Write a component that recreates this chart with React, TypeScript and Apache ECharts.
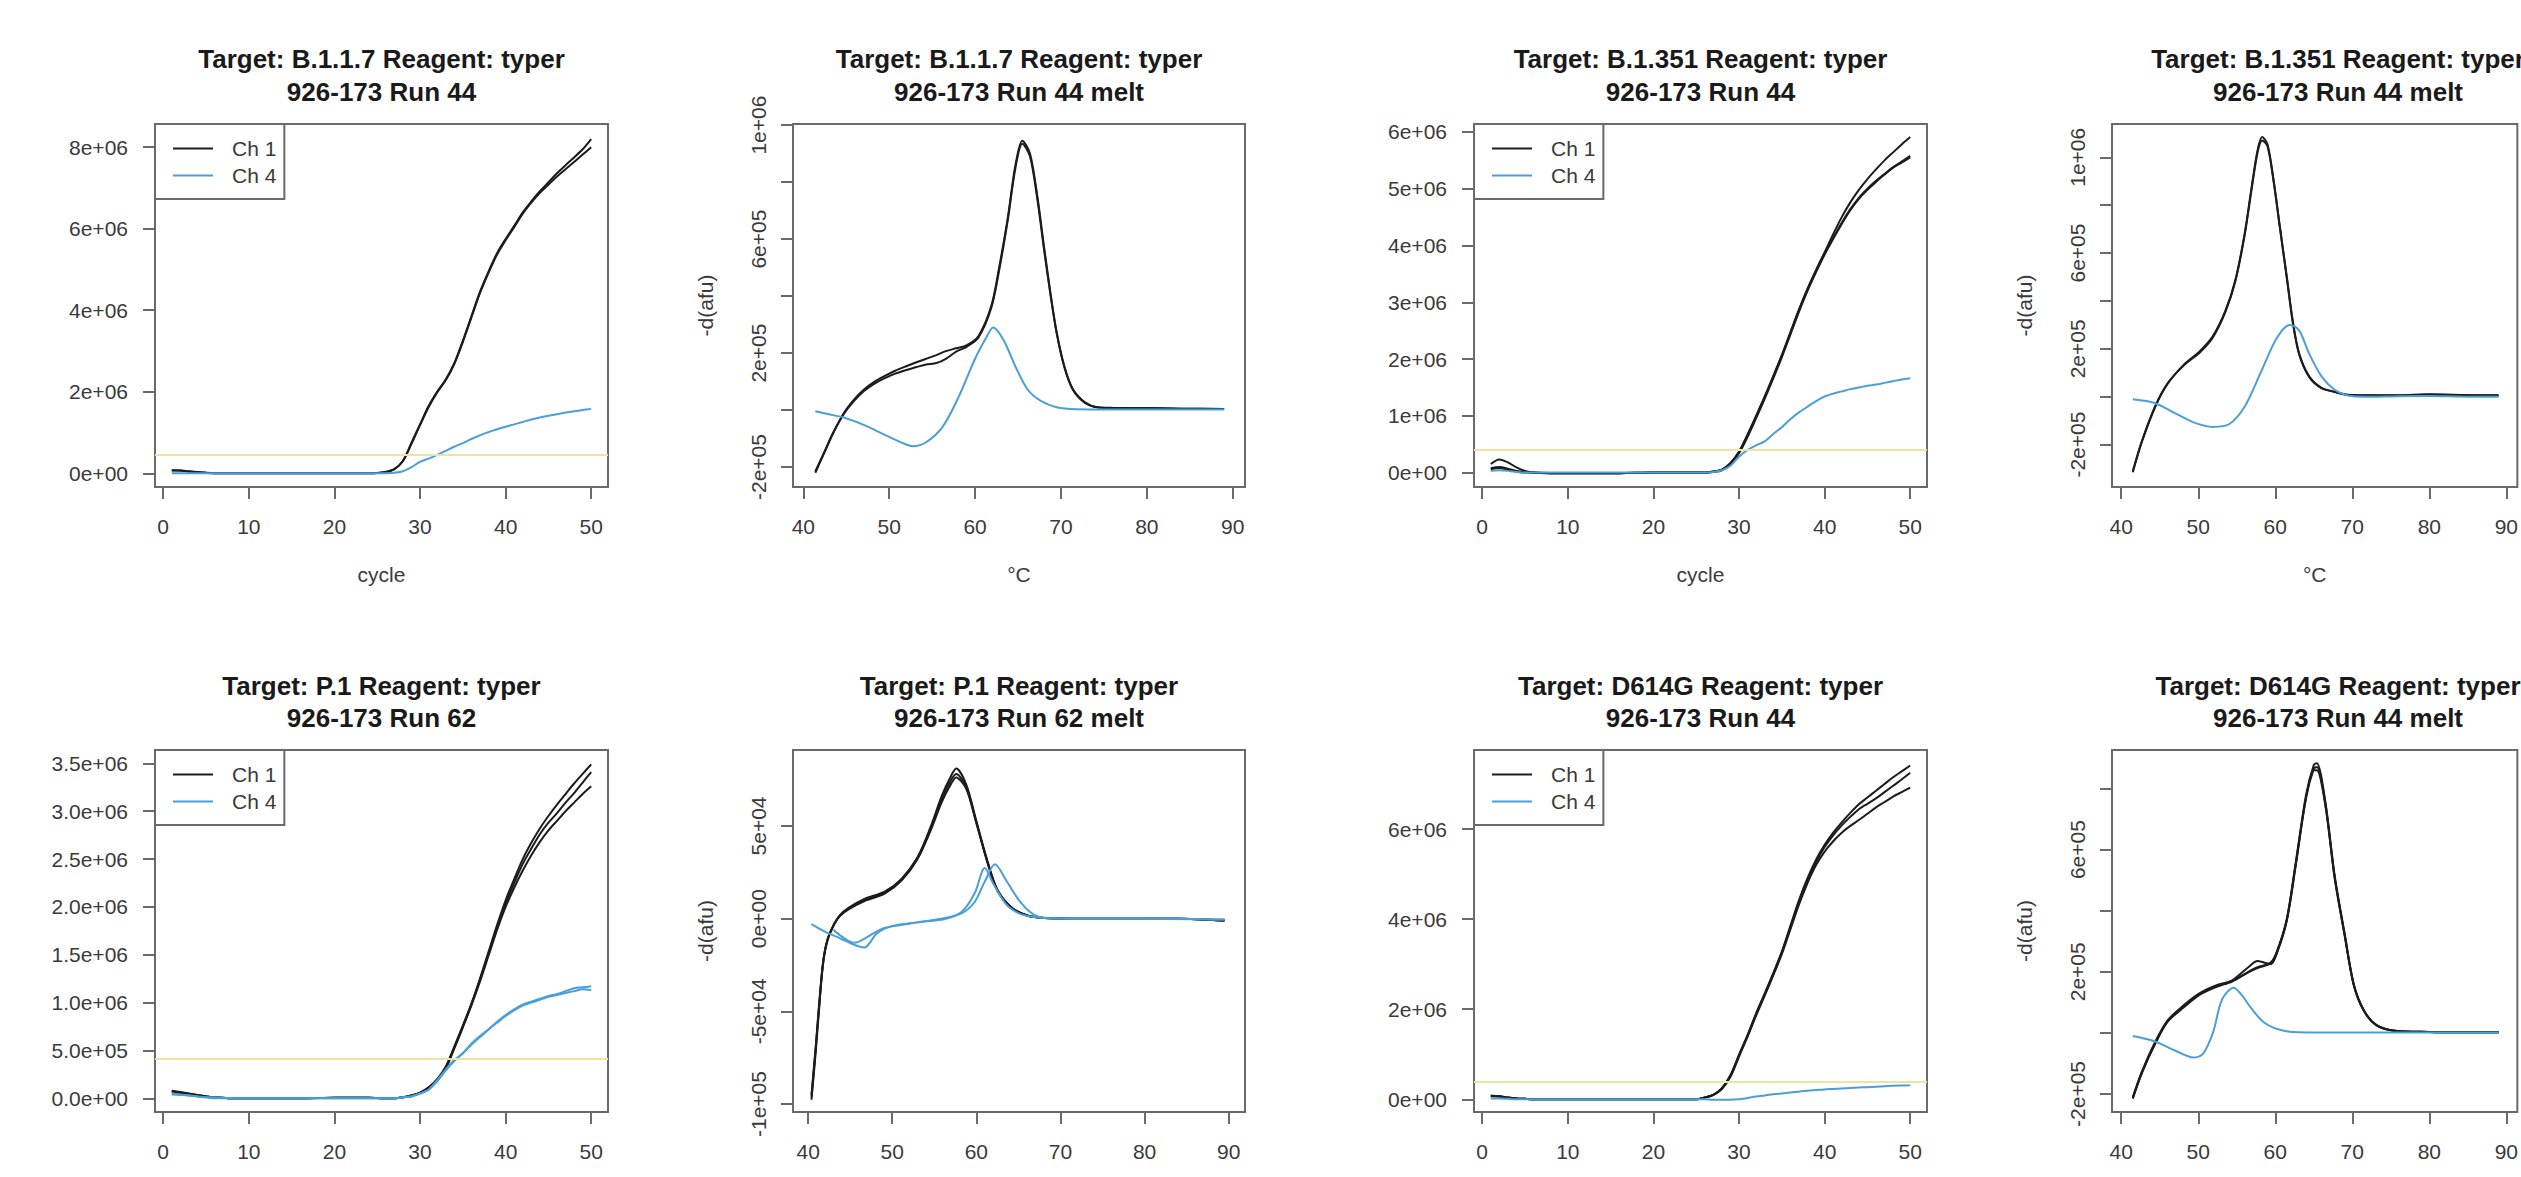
import React, { useEffect, useRef } from "react";
import * as echarts from "echarts";

const W = 2521;
const H = 1177;
const FONT = '"Liberation Sans", Arial, Helvetica, sans-serif';
const CH1_COLOR = "#1c1c1c";
const CH4_COLOR = "#4a9fd9";
const THR_COLOR = "#efe2a2";
const BOX_COLOR = "#6a6a6a";
const LABEL_COLOR = "#3a3a3a";

// ---------- shared amplification cycles ----------
const CYCLES = [1, 2, 3, 4, 5, 6, 8, 12, 16, 20, 24, 25, 26, 27, 28, 29, 30, 31, 32, 33, 34, 35, 36, 37, 38, 39, 40, 41, 42, 43, 44, 45, 46, 47, 48, 49, 50];
const CYCLE_TICKS = [0, 10, 20, 30, 40, 50];
const TEMP_TICKS = [40, 50, 60, 70, 80, 90];

// ---------- Panel 1: B.1.1.7 amplification (values in 1e6) ----------
const P1_CH1_A = [0.075, 0.07, 0.05, 0.03, 0.01, 0, 0, 0, 0, 0, 0, 0.005, 0.03, 0.1, 0.3, 0.75, 1.2, 1.65, 2.0, 2.3, 2.7, 3.25, 3.85, 4.45, 4.95, 5.4, 5.75, 6.07, 6.4, 6.67, 6.92, 7.14, 7.36, 7.56, 7.75, 7.95, 8.2];
const P1_CH1_B = [0.07, 0.065, 0.045, 0.025, 0.01, 0, 0, 0, 0, 0, 0, 0.005, 0.03, 0.1, 0.3, 0.72, 1.18, 1.62, 1.98, 2.28, 2.68, 3.22, 3.82, 4.42, 4.92, 5.37, 5.72, 6.04, 6.37, 6.64, 6.88, 7.08, 7.28, 7.46, 7.64, 7.82, 8.0];
const P1_CH4 = [0, 0, 0, 0, 0, 0, 0, 0, 0, 0, 0, 0, 0, 0.01, 0.05, 0.15, 0.28, 0.36, 0.45, 0.55, 0.65, 0.74, 0.84, 0.93, 1.01, 1.08, 1.14, 1.2, 1.26, 1.32, 1.37, 1.41, 1.45, 1.49, 1.52, 1.55, 1.58];
const P1_YTICKS = [0, 2e6, 4e6, 6e6, 8e6];
const P1_THRESHOLD = 4.5e5;

// ---------- Panel 2: B.1.1.7 melt (values in 1e6) ----------
const P2_CH1_X = [41.4, 42.4, 43.5, 44.8, 46, 47.1, 48.3, 49.5, 50.7, 51.9, 53.1, 54.3, 55.5, 56.6, 57.8, 59.0, 60.4, 61.9, 62.8, 63.8, 64.7, 65.5, 66.4, 67.3, 68.0, 68.8, 69.5, 70.4, 71.4, 72.8, 74.2, 76, 80, 84, 89];
const P2_CH1_A = [-0.22, -0.153, -0.08, -0.007, 0.04, 0.073, 0.1, 0.12, 0.138, 0.153, 0.167, 0.18, 0.193, 0.207, 0.217, 0.227, 0.26, 0.367, 0.5, 0.673, 0.86, 0.945, 0.9, 0.74, 0.58, 0.407, 0.273, 0.153, 0.073, 0.027, 0.01, 0.008, 0.007, 0.005, 0.004];
const P2_CH1_B = [-0.215, -0.15, -0.078, -0.01, 0.035, 0.068, 0.093, 0.112, 0.128, 0.14, 0.15, 0.16, 0.165, 0.18, 0.205, 0.222, 0.255, 0.36, 0.49, 0.665, 0.85, 0.935, 0.89, 0.73, 0.57, 0.4, 0.27, 0.15, 0.07, 0.025, 0.01, 0.007, 0.006, 0.005, 0.004];
const P2_CH4_X = [41.4, 43, 44.8, 47.1, 49.5, 51.9, 52.8, 54.3, 56.2, 58.1, 60, 61.4, 62.1, 63.3, 64.7, 66.1, 67.6, 69.5, 71.8, 76, 80, 85, 89];
const P2_CH4 = [-0.004, -0.015, -0.027, -0.053, -0.087, -0.12, -0.127, -0.113, -0.06, 0.047, 0.18, 0.26, 0.29, 0.247, 0.153, 0.073, 0.033, 0.01, 0.003, 0.002, 0.002, 0.002, 0.002];
const P2_YTICKS = [-2e5, 0, 2e5, 4e5, 6e5, 8e5, 1e6];
const P2_YLABELS = [-2e5, 2e5, 6e5, 1e6];

// ---------- Panel 3: B.1.351 amplification (values in 1e6) ----------
const P3_CH1_A = [0.15, 0.23, 0.18, 0.09, 0.03, 0, -0.01, -0.01, -0.01, 0, 0, 0, 0, 0.02, 0.05, 0.17, 0.37, 0.67, 1.0, 1.34, 1.7, 2.07, 2.47, 2.87, 3.24, 3.57, 3.88, 4.2, 4.5, 4.76, 4.98, 5.17, 5.34, 5.5, 5.64, 5.78, 5.91];
const P3_CH1_B = [0.08, 0.1, 0.07, 0.03, 0.01, 0, -0.01, -0.01, -0.01, 0, 0, 0, 0, 0.02, 0.05, 0.16, 0.36, 0.66, 0.99, 1.33, 1.69, 2.06, 2.46, 2.86, 3.22, 3.55, 3.86, 4.13, 4.4, 4.64, 4.84, 5.0, 5.14, 5.26, 5.38, 5.48, 5.58];
const P3_CH1_C = [0.06, 0.08, 0.05, 0.02, 0, 0, -0.01, -0.01, -0.01, 0, 0, 0, 0, 0.01, 0.04, 0.15, 0.34, 0.63, 0.96, 1.3, 1.66, 2.03, 2.43, 2.83, 3.2, 3.53, 3.84, 4.12, 4.38, 4.62, 4.82, 4.98, 5.12, 5.25, 5.37, 5.46, 5.55];
const P3_CH4 = [0.03, 0.04, 0.03, 0.01, 0, 0, 0, 0, 0, 0, 0, 0, 0, 0.01, 0.04, 0.12, 0.28, 0.4, 0.48, 0.55, 0.68, 0.8, 0.94, 1.06, 1.16, 1.26, 1.34, 1.39, 1.43, 1.47, 1.5, 1.53, 1.55, 1.58, 1.61, 1.64, 1.66];
const P3_YTICKS = [0, 1e6, 2e6, 3e6, 4e6, 5e6, 6e6];
const P3_THRESHOLD = 4.0e5;

// ---------- Panel 4: B.1.351 melt (values in 1e6) ----------
const P4_CH1_X = [41.5, 42.7, 44.4, 46, 48.1, 50.2, 51.9, 53.5, 54.8, 56, 56.9, 57.7, 58.3, 59, 59.8, 60.6, 61.5, 62.3, 63.1, 64.4, 66, 67.7, 69.4, 72, 76, 80, 85, 89];
const P4_CH1_A = [-0.315, -0.187, -0.043, 0.053, 0.133, 0.19, 0.253, 0.357, 0.485, 0.677, 0.869, 1.03, 1.085, 1.053, 0.9, 0.71, 0.5, 0.31, 0.18, 0.085, 0.037, 0.021, 0.008, 0.006, 0.006, 0.01, 0.007, 0.006];
const P4_CH1_B = [-0.31, -0.183, -0.04, 0.055, 0.13, 0.185, 0.248, 0.352, 0.48, 0.67, 0.86, 1.02, 1.07, 1.045, 0.895, 0.705, 0.495, 0.305, 0.178, 0.083, 0.036, 0.02, 0.007, 0.005, 0.005, 0.008, 0.006, 0.005];
const P4_CH4_X = [41.5, 44.4, 46.9, 49.4, 51.9, 54, 56, 58.1, 60.2, 61.9, 63.1, 64.4, 66, 67.7, 69.4, 72, 76, 80, 85, 89];
const P4_CH4 = [-0.011, -0.027, -0.067, -0.107, -0.126, -0.115, -0.043, 0.1, 0.245, 0.3, 0.277, 0.18, 0.085, 0.029, 0.005, 0, 0.002, 0.003, 0, 0];
const P4_YTICKS = [-2e5, 0, 2e5, 4e5, 6e5, 8e5, 1e6];
const P4_YLABELS = [-2e5, 2e5, 6e5, 1e6];

// ---------- Panel 5: P.1 amplification (values in 1e6) ----------
const P5_CH1_A = [0.08, 0.065, 0.05, 0.035, 0.02, 0.01, 0, 0, 0, 0.005, 0.005, 0.003, 0, 0, 0.01, 0.03, 0.06, 0.115, 0.2, 0.33, 0.54, 0.76, 0.99, 1.25, 1.53, 1.81, 2.07, 2.29, 2.5, 2.67, 2.82, 2.95, 3.07, 3.18, 3.29, 3.39, 3.49];
const P5_CH1_B = [0.075, 0.06, 0.045, 0.035, 0.02, 0.01, 0, 0, 0, 0.005, 0.005, 0.003, 0, 0, 0.01, 0.03, 0.057, 0.11, 0.19, 0.32, 0.53, 0.75, 0.98, 1.24, 1.51, 1.79, 2.04, 2.25, 2.45, 2.61, 2.76, 2.88, 2.98, 3.09, 3.19, 3.3, 3.41];
const P5_CH1_C = [0.07, 0.055, 0.04, 0.03, 0.02, 0.01, 0, 0, 0, 0.005, 0.005, 0.003, 0, 0, 0.01, 0.03, 0.055, 0.105, 0.18, 0.31, 0.52, 0.74, 0.97, 1.22, 1.49, 1.76, 2.0, 2.2, 2.38, 2.54, 2.68, 2.8, 2.9, 3.0, 3.09, 3.18, 3.26];
const P5_CH4_A = [0.05, 0.04, 0.03, 0.02, 0.01, 0.01, 0, 0, 0, 0, 0, 0, 0, 0, 0.01, 0.02, 0.05, 0.09, 0.19, 0.3, 0.4, 0.47, 0.57, 0.65, 0.72, 0.8, 0.87, 0.93, 0.98, 1.01, 1.04, 1.07, 1.09, 1.12, 1.15, 1.16, 1.17];
const P5_CH4_B = [0.04, 0.035, 0.03, 0.02, 0.01, 0, 0, 0, 0, 0, 0, 0, 0, 0, 0.01, 0.02, 0.05, 0.09, 0.18, 0.29, 0.39, 0.47, 0.56, 0.64, 0.72, 0.79, 0.86, 0.92, 0.97, 1.0, 1.03, 1.06, 1.08, 1.1, 1.12, 1.14, 1.13];
const P5_YTICKS = [0, 5e5, 1e6, 1.5e6, 2e6, 2.5e6, 3e6, 3.5e6];
const P5_THRESHOLD = 4.1e5;

// ---------- Panel 6: P.1 melt (values in 1e4) ----------
const P6_CH1_X = [40.4, 40.9, 41.4, 41.8, 42.3, 43.1, 43.8, 44.8, 46.7, 49.1, 51.1, 53, 54.5, 55.9, 56.9, 57.6, 58.8, 60, 61.3, 62.5, 64.2, 66.1, 68.1, 72, 78, 84, 89.5];
const P6_CH1_A = [-9.77, -7.2, -4.3, -2.34, -1.17, -0.29, 0.2, 0.59, 1.07, 1.46, 2.15, 3.32, 4.88, 6.64, 7.62, 8.1, 7.23, 5.27, 3.13, 1.56, 0.59, 0.16, 0.04, 0, 0, 0, -0.1];
const P6_CH1_B = [-9.6, -7.0, -4.2, -2.3, -1.15, -0.3, 0.15, 0.5, 0.95, 1.35, 2.05, 3.22, 4.75, 6.45, 7.4, 7.8, 7.1, 5.2, 3.1, 1.55, 0.6, 0.17, 0.04, 0, 0, 0, -0.1];
const P6_CH1_C = [-9.5, -6.9, -4.1, -2.25, -1.12, -0.28, 0.18, 0.55, 1.0, 1.4, 2.1, 3.25, 4.7, 6.3, 7.2, 7.62, 7.0, 5.15, 3.05, 1.5, 0.58, 0.16, 0.04, 0, 0, 0, -0.1];
const P6_CH4_A_X = [40.4, 42, 43.5, 45.7, 46.7, 48.2, 50.1, 53, 56.4, 58.3, 59.8, 61, 62, 63.5, 65, 66.6, 68.1, 72, 78, 84, 89.5];
const P6_CH4_A = [-0.29, -0.7, -1.0, -1.45, -1.56, -0.78, -0.39, -0.2, 0, 0.39, 1.37, 2.73, 1.9, 0.8, 0.3, 0.1, 0.03, 0, 0, 0, -0.05];
const P6_CH4_B_X = [43, 45.5, 47, 48.5, 50.1, 53, 56.4, 58.3, 59.8, 61, 62.2, 63.7, 65.1, 66.6, 68.1, 72, 80, 89.5];
const P6_CH4_B = [-0.6, -1.3, -1.0, -0.6, -0.4, -0.2, 0.05, 0.3, 0.9, 2.0, 2.93, 1.95, 0.98, 0.29, 0.04, 0, 0, -0.05];
const P6_YTICKS = [-1e5, -5e4, 0, 5e4];
const P6_YLABELS = [-1e5, -5e4, 0, 5e4];

// ---------- Panel 7: D614G amplification (values in 1e6) ----------
const P7_CH1_A = [0.08, 0.07, 0.04, 0.02, 0.01, 0, 0, 0, 0, 0, 0, 0, 0.04, 0.1, 0.25, 0.54, 0.99, 1.43, 1.91, 2.35, 2.8, 3.28, 3.85, 4.42, 4.91, 5.32, 5.65, 5.92, 6.15, 6.36, 6.55, 6.7, 6.85, 7.0, 7.15, 7.28, 7.41];
const P7_CH1_B = [0.08, 0.07, 0.04, 0.02, 0.01, 0, 0, 0, 0, 0, 0, 0, 0.04, 0.1, 0.24, 0.52, 0.97, 1.41, 1.89, 2.33, 2.78, 3.26, 3.82, 4.39, 4.87, 5.27, 5.6, 5.86, 6.08, 6.27, 6.44, 6.56, 6.68, 6.82, 6.96, 7.1, 7.25];
const P7_CH1_C = [0.07, 0.06, 0.035, 0.02, 0.01, 0, 0, 0, 0, 0, 0, 0, 0.04, 0.1, 0.23, 0.5, 0.95, 1.39, 1.86, 2.3, 2.75, 3.22, 3.77, 4.32, 4.8, 5.2, 5.5, 5.73, 5.92, 6.07, 6.2, 6.34, 6.48, 6.6, 6.72, 6.82, 6.92];
const P7_CH4 = [0.02, 0.02, 0.01, 0, 0, 0, 0, 0, 0, 0, 0, 0, 0, -0.01, -0.01, -0.01, 0, 0.03, 0.06, 0.085, 0.11, 0.13, 0.15, 0.17, 0.19, 0.205, 0.22, 0.23, 0.24, 0.25, 0.26, 0.27, 0.28, 0.29, 0.3, 0.305, 0.31];
const P7_YTICKS = [0, 2e6, 4e6, 6e6];
const P7_THRESHOLD = 4.0e5;

// ---------- Panel 8: D614G melt (values in 1e6) ----------
const P8_CH1_X = [41.5, 42.7, 44.4, 46, 48.1, 50.2, 52.3, 54.4, 56.5, 57.7, 59.4, 60.2, 61.5, 62.7, 64, 65, 65.4, 66.5, 67.7, 69, 70.2, 71.5, 73.1, 75.2, 80, 85, 89];
const P8_CH1_A = [-0.213, -0.129, -0.034, 0.038, 0.086, 0.128, 0.152, 0.17, 0.2, 0.215, 0.23, 0.266, 0.374, 0.565, 0.78, 0.877, 0.883, 0.757, 0.517, 0.326, 0.158, 0.074, 0.026, 0.008, 0.003, 0.002, 0.002];
const P8_CH1_B = [-0.21, -0.125, -0.03, 0.04, 0.09, 0.13, 0.155, 0.172, 0.215, 0.235, 0.225, 0.26, 0.37, 0.56, 0.77, 0.865, 0.87, 0.75, 0.51, 0.32, 0.155, 0.072, 0.025, 0.008, 0.003, 0.002, 0.002];
const P8_CH1_C = [-0.215, -0.13, -0.036, 0.036, 0.083, 0.125, 0.15, 0.168, 0.198, 0.212, 0.228, 0.262, 0.368, 0.555, 0.77, 0.86, 0.86, 0.745, 0.51, 0.322, 0.157, 0.073, 0.026, 0.008, 0.003, 0.002, 0.002];
const P8_CH4_X = [41.5, 44.4, 46.9, 49.4, 50.6, 51.9, 53.1, 54.6, 55.6, 56.9, 58.5, 60.6, 63, 70, 80, 89];
const P8_CH4 = [-0.01, -0.028, -0.057, -0.081, -0.069, 0.0, 0.11, 0.148, 0.125, 0.08, 0.035, 0.01, 0.002, 0.001, 0.001, 0.001];
const P8_YTICKS = [-2e5, 0, 2e5, 4e5, 6e5, 8e5];
const P8_YLABELS = [-2e5, 2e5, 6e5];

// ---------- layout (pixels) ----------
const COL_LEFT = [155, 793, 1474, 2112];
const COL_WIDTH = [453, 452, 453, 452];
const ROW_TOP = [124, 750];
const ROW_HEIGHT = [363, 362];
const TITLE_Y = [[59, 92], [686, 718]];

type Curve = { name: string; x: number[]; y: number[] };
type Panel = {
  row: number; col: number; melt: boolean;
  t1: string; t2: string;
  xRange: number[]; yRange: number[];
  yTicks: number[]; yLabels: number[]; digits: number;
  unit: number; threshold?: number; xName?: string;
  curves: Curve[];
};

const ch1 = (x: number[], y: number[]): Curve => ({ name: "Ch 1", x, y });
const ch4 = (x: number[], y: number[]): Curve => ({ name: "Ch 4", x, y });

const PANELS: Panel[] = [
  {
    row: 0, col: 0, melt: false, t1: "Target: B.1.1.7 Reagent: typer", t2: "926-173 Run 44",
    xRange: [-0.96, 51.96], yRange: [-0.337e6, 8.57e6], yTicks: P1_YTICKS, yLabels: P1_YTICKS, digits: 0,
    unit: 1e6, threshold: P1_THRESHOLD, xName: "cycle",
    curves: [ch1(CYCLES, P1_CH1_A), ch1(CYCLES, P1_CH1_B), ch4(CYCLES, P1_CH4)],
  },
  {
    row: 0, col: 1, melt: true, t1: "Target: B.1.1.7 Reagent: typer", t2: "926-173 Run 44 melt",
    xRange: [38.8, 91.43], yRange: [-0.27e6, 1.004e6], yTicks: P2_YTICKS, yLabels: P2_YLABELS, digits: 0,
    unit: 1e6, xName: "°C",
    curves: [ch1(P2_CH1_X, P2_CH1_A), ch1(P2_CH1_X, P2_CH1_B), ch4(P2_CH4_X, P2_CH4)],
  },
  {
    row: 0, col: 2, melt: false, t1: "Target: B.1.351 Reagent: typer", t2: "926-173 Run 44",
    xRange: [-0.96, 51.96], yRange: [-0.254e6, 6.14e6], yTicks: P3_YTICKS, yLabels: P3_YTICKS, digits: 0,
    unit: 1e6, threshold: P3_THRESHOLD, xName: "cycle",
    curves: [ch1(CYCLES, P3_CH1_A), ch1(CYCLES, P3_CH1_B), ch1(CYCLES, P3_CH1_C), ch4(CYCLES, P3_CH4)],
  },
  {
    row: 0, col: 3, melt: true, t1: "Target: B.1.351 Reagent: typer", t2: "926-173 Run 44 melt",
    xRange: [38.8, 91.43], yRange: [-0.377e6, 1.139e6], yTicks: P4_YTICKS, yLabels: P4_YLABELS, digits: 0,
    unit: 1e6, xName: "°C",
    curves: [ch1(P4_CH1_X, P4_CH1_A), ch1(P4_CH1_X, P4_CH1_B), ch4(P4_CH4_X, P4_CH4)],
  },
  {
    row: 1, col: 0, melt: false, t1: "Target: P.1 Reagent: typer", t2: "926-173 Run 62",
    xRange: [-0.96, 51.96], yRange: [-0.143e6, 3.64e6], yTicks: P5_YTICKS, yLabels: P5_YTICKS, digits: 1,
    unit: 1e6, threshold: P5_THRESHOLD,
    curves: [ch1(CYCLES, P5_CH1_A), ch1(CYCLES, P5_CH1_B), ch1(CYCLES, P5_CH1_C), ch4(CYCLES, P5_CH4_A), ch4(CYCLES, P5_CH4_B)],
  },
  {
    row: 1, col: 1, melt: true, t1: "Target: P.1 Reagent: typer", t2: "926-173 Run 62 melt",
    xRange: [38.2, 91.94], yRange: [-1.043e5, 0.91e5], yTicks: P6_YTICKS, yLabels: P6_YLABELS, digits: 0,
    unit: 1e4,
    curves: [ch1(P6_CH1_X, P6_CH1_A), ch1(P6_CH1_X, P6_CH1_B), ch1(P6_CH1_X, P6_CH1_C), ch4(P6_CH4_A_X, P6_CH4_A), ch4(P6_CH4_B_X, P6_CH4_B)],
  },
  {
    row: 1, col: 2, melt: false, t1: "Target: D614G Reagent: typer", t2: "926-173 Run 44",
    xRange: [-0.96, 51.96], yRange: [-0.282e6, 7.755e6], yTicks: P7_YTICKS, yLabels: P7_YTICKS, digits: 0,
    unit: 1e6, threshold: P7_THRESHOLD,
    curves: [ch1(CYCLES, P7_CH1_A), ch1(CYCLES, P7_CH1_B), ch1(CYCLES, P7_CH1_C), ch4(CYCLES, P7_CH4)],
  },
  {
    row: 1, col: 3, melt: true, t1: "Target: D614G Reagent: typer", t2: "926-173 Run 44 melt",
    xRange: [38.8, 91.43], yRange: [-0.259e6, 0.926e6], yTicks: P8_YTICKS, yLabels: P8_YLABELS, digits: 0,
    unit: 1e6,
    curves: [ch1(P8_CH1_X, P8_CH1_A), ch1(P8_CH1_X, P8_CH1_B), ch1(P8_CH1_X, P8_CH1_C), ch4(P8_CH4_X, P8_CH4)],
  },
];

function sci(v: number, d: number): string {
  const s = v.toExponential(d);
  return s.replace(/e([+-])(\d+)$/, (_m: string, sg: string, ex: string) => "e" + sg + (ex.length < 2 ? "0" + ex : ex));
}

function buildOption() {
  const grid: any[] = [];
  const xAxis: any[] = [];
  const yAxis: any[] = [];
  const series: any[] = [];
  const legend: any[] = [];
  const graphic: any[] = [];

  PANELS.forEach((p, i) => {
    const left = COL_LEFT[p.col];
    const width = COL_WIDTH[p.col];
    const top = ROW_TOP[p.row];
    const height = ROW_HEIGHT[p.row];
    grid.push({ left, top, width, height, show: true, borderColor: BOX_COLOR, borderWidth: 2, backgroundColor: "transparent", containLabel: false });

    const xTicks = p.melt ? TEMP_TICKS : CYCLE_TICKS;
    xAxis.push({
      type: "value", gridIndex: i, min: p.xRange[0], max: p.xRange[1], position: "bottom",
      axisLine: { show: false, onZero: false },
      axisTick: { show: true, length: 12, customValues: xTicks, lineStyle: { color: BOX_COLOR, width: 2 } },
      axisLabel: { show: true, customValues: xTicks, margin: 29, fontSize: 21, color: LABEL_COLOR, fontFamily: FONT },
      splitLine: { show: false },
      name: p.xName || "", nameLocation: "middle", nameGap: 77,
      nameTextStyle: { fontSize: 21, color: LABEL_COLOR, fontFamily: FONT },
    });
    const digits = p.digits;
    yAxis.push({
      type: "value", gridIndex: i, min: p.yRange[0], max: p.yRange[1], position: "left",
      axisLine: { show: false, onZero: false },
      axisTick: { show: true, length: 12, customValues: p.yTicks, lineStyle: { color: BOX_COLOR, width: 2 } },
      axisLabel: {
        show: true, customValues: p.yLabels, margin: p.melt ? 24 : 27, rotate: p.melt ? 90 : 0,
        fontSize: 21, color: LABEL_COLOR, fontFamily: FONT,
        formatter: (v: number) => sci(v, digits),
      },
      splitLine: { show: false },
      name: p.melt ? "-d(afu)" : "", nameLocation: "middle", nameRotate: 90, nameGap: 77,
      nameTextStyle: { fontSize: 21, color: LABEL_COLOR, fontFamily: FONT },
    });

    p.curves.forEach((c, k) => {
      const color = c.name === "Ch 1" ? CH1_COLOR : CH4_COLOR;
      const s: any = {
        type: "line", name: c.name, xAxisIndex: i, yAxisIndex: i,
        data: c.x.map((xv, j) => [xv, c.y[j] * p.unit]),
        showSymbol: false, symbol: "none", smooth: 0.3, silent: true,
        color, lineStyle: { color, width: 2 }, itemStyle: { color },
        z: c.name === "Ch 1" ? 3 : 4,
      };
      if (k === 0 && p.threshold !== undefined) {
        s.markLine = {
          silent: true, symbol: ["none", "none"], label: { show: false },
          lineStyle: { color: THR_COLOR, width: 2, type: "solid" },
          data: [{ yAxis: p.threshold }],
        };
      }
      series.push(s);
    });

    if (!p.melt) {
      legend.push({
        left, top, orient: "vertical", data: ["Ch 1", "Ch 4"], icon: "rect",
        itemWidth: 40, itemHeight: 2, itemGap: 6, padding: [14, 8, 13, 18],
        borderColor: BOX_COLOR, borderWidth: 2, selectedMode: false,
        textStyle: { fontSize: 21, color: LABEL_COLOR, fontFamily: FONT, padding: [0, 0, 0, 14] },
      });
    }

    const cx = left + width / 2;
    [p.t1, p.t2].forEach((t, li) => {
      graphic.push({
        type: "text", x: cx, y: TITLE_Y[p.row][li], silent: true,
        style: { text: t, fontSize: 26, fontWeight: "bold", fontFamily: FONT, fill: "#1a1a1a", align: "center", verticalAlign: "middle" },
      });
    });
  });

  return { animation: false, backgroundColor: "#ffffff", grid, xAxis, yAxis, series, legend, graphic };
}

export default function App() {
  const ref = useRef<HTMLDivElement>(null);
  useEffect(() => {
    if (!ref.current) return;
    const chart = echarts.init(ref.current, null, { renderer: "svg" });
    chart.setOption(buildOption() as any);
    return () => chart.dispose();
  }, []);
  return <div ref={ref} style={{ position: "absolute", left: 0, top: 0, width: W, height: H, background: "#fff" }} />;
}
